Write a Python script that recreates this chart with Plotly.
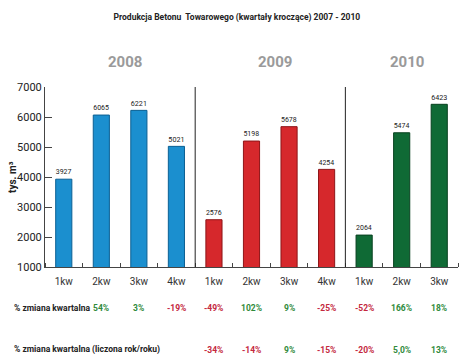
import plotly.graph_objects as go

years = ["2008", "2009", "2010"]
quarters = ["1kw", "2kw", "3kw", "4kw", "1kw", "2kw", "3kw", "4kw", "1kw", "2kw", "3kw"]
year_of = [0, 0, 0, 0, 1, 1, 1, 1, 2, 2, 2]
values = [3927, 6065, 6221, 5021, 2576, 5198, 5678, 4254, 2064, 5474, 6423]
qoq = [None, "54%", "3%", "-19%", "-49%", "102%", "9%", "-25%", "-52%", "166%", "18%"]
yoy = [None, None, None, None, "-34%", "-14%", "9%", "-15%", "-20%", "5,0%", "13%"]
qoq_pos = [None, True, True, False, False, True, True, False, False, True, True]
yoy_pos = [None, None, None, None, False, False, True, False, False, True, True]

title = "Produkcja Betonu  Towarowego (kwartały kroczące) 2007 - 2010"
row1_label = "% zmiana kwartalna"
row2_label = "% zmiana kwartalna (liczona rok/roku)"
y_title = "tys. m³"

bar_colors = ["#1b8fcf", "#d6282c", "#0f6a35"]
line_colors = ["#0b5f93", "#8e1518", "#07401f"]
FONT = "Roboto, Liberation Sans, sans-serif"
GREEN = "#2f8a3b"
RED = "#c4283e"

fig = go.Figure()
for yi, yr in enumerate(years):
    xs = [i for i in range(len(values)) if year_of[i] == yi]
    fig.add_trace(go.Bar(
        x=xs, y=[values[i] for i in xs],
        marker=dict(color=bar_colors[yi], line=dict(color=line_colors[yi], width=1)),
        text=[str(values[i]) for i in xs], textposition="outside",
        textfont=dict(size=8, color="#222", family=FONT),
        cliponaxis=False, width=0.43, showlegend=False, name=yr,
    ))

annotations = []
for yi, yr in enumerate(years):
    xs = [i for i in range(len(values)) if year_of[i] == yi]
    annotations.append(dict(x=sum(xs) / len(xs), y=1.139, xref="x", yref="paper",
                            xanchor="center", yanchor="middle",
                            text="<b>%s</b>" % yr, showarrow=False, xshift=5,
                            font=dict(size=15, color="#9a9a9a", family=FONT)))
for i in range(len(values)):
    if qoq[i]:
        annotations.append(dict(x=i, y=-0.228, xref="x", yref="paper", text="<b>%s</b>" % qoq[i],
                                showarrow=False, xanchor="center", yanchor="middle",
                                font=dict(size=8.5, color=GREEN if qoq_pos[i] else RED, family=FONT)))
    if yoy[i]:
        annotations.append(dict(x=i, y=-0.461, xref="x", yref="paper", text="<b>%s</b>" % yoy[i],
                                showarrow=False, xanchor="center", yanchor="middle",
                                font=dict(size=8.5, color=GREEN if yoy_pos[i] else RED, family=FONT)))
annotations.append(dict(x=-0.08, y=-0.228, xref="paper", yref="paper", xanchor="left", yanchor="middle",
                        text="<b>%s</b>" % row1_label, showarrow=False,
                        font=dict(size=8.5, color="#222", family=FONT)))
annotations.append(dict(x=-0.08, y=-0.461, xref="paper", yref="paper", xanchor="left", yanchor="middle",
                        text="<b>%s</b>" % row2_label, showarrow=False,
                        font=dict(size=8.5, color="#222", family=FONT)))
annotations.append(dict(x=-0.08, y=0.5, xref="paper", yref="paper", textangle=-90,
                        xanchor="center", yanchor="middle",
                        text="<b>%s</b>" % y_title, showarrow=False,
                        font=dict(size=10, color="#222", family=FONT)))

shapes = []
for yi in range(1, len(years)):
    first = min(i for i in range(len(values)) if year_of[i] == yi)
    shapes.append(dict(type="line", xref="x", yref="paper", x0=first - 0.5, x1=first - 0.5,
                       y0=0, y1=1, line=dict(color="#222", width=1)))

fig.update_layout(
    width=460, height=360,
    margin=dict(l=45, r=2, t=87, b=93),
    paper_bgcolor="white", plot_bgcolor="white",
    title=dict(text="<b>%s</b>" % title, x=0.515, xanchor="center", y=0.953, yanchor="middle",
               font=dict(size=8.5, color="#222", family=FONT)),
    bargap=0.57,
    annotations=annotations, shapes=shapes,
    font=dict(family=FONT),
)
fig.update_xaxes(
    range=[-0.5, len(values) - 0.5], tickmode="array", tickvals=list(range(len(values))),
    ticktext=quarters, ticks="", showgrid=False, zeroline=False,
    showline=True, linecolor="#444", linewidth=1, ticklabelstandoff=5,
    tickfont=dict(size=10, color="#333", family=FONT),
    minor=dict(ticks="inside", tick0=0.5, dtick=1, ticklen=4, tickcolor="#444", showgrid=False),
)
fig.update_yaxes(
    range=[1000, 7000], dtick=1000, ticks="inside", ticklen=7, tickcolor="#444",
    showgrid=False, zeroline=False, showline=True, linecolor="#444", linewidth=1,
    tickfont=dict(size=11, color="#222", family=FONT),
)

fig.write_html("out.html", config={"displayModeBar": False},
               post_script="document.body.style.margin='0';")
